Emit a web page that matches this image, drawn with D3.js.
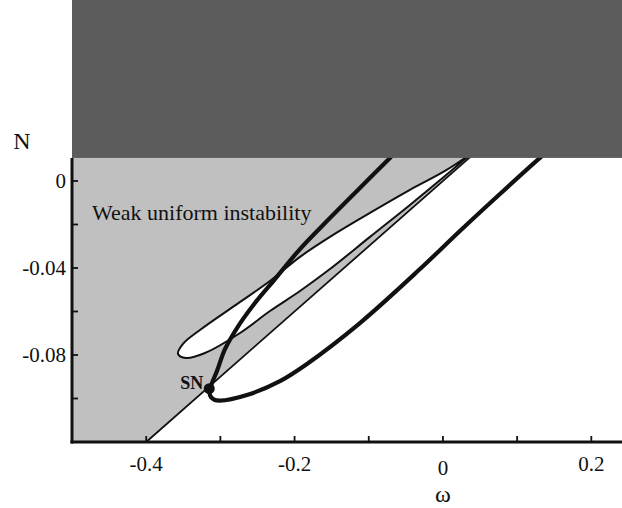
<!DOCTYPE html>
<html>
<head>
<meta charset="utf-8">
<script src="https://cdn.jsdelivr.net/npm/d3@7"></script>
<style>
  html, body { margin: 0; padding: 0; background: #fff; }
  svg { display: block; }
  text { font-family: "Liberation Serif", "Times New Roman", serif; fill: #111; }
</style>
</head>
<body>
<svg id="chart" width="622" height="508"></svg>
<script>
// axis ticks
const xTicks = [-0.4, -0.3, -0.2, -0.1, 0, 0.1, 0.2];
const xLabels = [-0.4, -0.2, 0, 0.2];
const yTicks = [0, -0.02, -0.04, -0.06, -0.08, -0.10];
const yLabels = [0, -0.04, -0.08];

// upper limit of the plot (dark band starts here)
const bandN = 0.0106;

// straight boundary of the weak uniform instability region [omega, N]
const boundaryLine = [[-0.4, -0.12], [0.045, 0.0135]];

// thin closed loop, upper and lower edges from tip to top
const loopUpper = [
  [-0.3571, -0.0795], [-0.3504, -0.0749], [-0.3275, -0.0685], [-0.2776, -0.0566],
  [-0.2332, -0.0460], [-0.1927, -0.0349], [-0.1523, -0.0257], [-0.0984, -0.0147],
  [-0.0445, -0.0041], [0.0027, 0.0046], [0.0380, 0.0125]
];
const loopLower = [
  [-0.3571, -0.0795], [-0.3464, -0.0814], [-0.3208, -0.0791], [-0.2736, -0.0699],
  [-0.2332, -0.0598], [-0.1927, -0.0506], [-0.1523, -0.0405], [-0.0984, -0.0257],
  [-0.0445, -0.0110], [0.0027, 0.0023], [0.0380, 0.0125]
];

// thick curve through the saddle-node point
const thickCurve = [
  [-0.0647, 0.0129], [-0.0714, 0.0106], [-0.1146, -0.0041], [-0.1563, -0.0184],
  [-0.1927, -0.0313], [-0.2264, -0.0451], [-0.2534, -0.0561], [-0.2776, -0.0676],
  [-0.2938, -0.0773], [-0.3046, -0.0874], [-0.3127, -0.0943], [-0.3140, -0.0985],
  [-0.3086, -0.1005], [-0.3005, -0.1010], [-0.2642, -0.0984], [-0.2197, -0.0920],
  [-0.1833, -0.0841], [-0.1119, -0.0653], [-0.0310, -0.0405], [0.0229, -0.0230],
  [0.0768, -0.0060], [0.1307, 0.0106], [0.1388, 0.0129]
];

const snPoint = [-0.315, -0.0955];

const svg = d3.select("#chart");
const W = 622, H = 508;

const x = d3.scaleLinear().domain([-0.5, 0.24]).range([72, 621]);
const y = d3.scaleLinear().domain([-0.12, 0.0832]).range([442, 0]);

const line = d3.line().x(d => x(d[0])).y(d => y(d[1]));
const smooth = d3.line().x(d => x(d[0])).y(d => y(d[1])).curve(d3.curveCatmullRom.alpha(0.5));

// light gray region: left of the straight boundary
const grayPoly = [
  [-0.5, -0.12], boundaryLine[0], boundaryLine[1], [-0.5, boundaryLine[1][1]]
];
svg.append("path")
  .attr("d", line(grayPoly) + "Z")
  .attr("fill", "#c0c0c0");

// the thin loop is white inside
const loopRing = loopUpper.slice().reverse().concat(loopLower.slice(1));
svg.append("path")
  .attr("d", smooth(loopRing))
  .attr("fill", "#fff")
  .attr("stroke", "#111")
  .attr("stroke-width", 2);

svg.append("path")
  .attr("d", line(boundaryLine))
  .attr("fill", "none")
  .attr("stroke", "#111")
  .attr("stroke-width", 1.8);

svg.append("path")
  .attr("d", smooth(thickCurve))
  .attr("fill", "none")
  .attr("stroke", "#111")
  .attr("stroke-width", 4.2)
  .attr("stroke-linejoin", "round");

// dark band on top
svg.append("rect")
  .attr("x", x(-0.5))
  .attr("y", 0)
  .attr("width", W - x(-0.5))
  .attr("height", y(bandN))
  .attr("fill", "#5c5c5c");

// axes
svg.append("line")
  .attr("x1", x(-0.5)).attr("x2", x(-0.5))
  .attr("y1", y(bandN)).attr("y2", y(-0.12) + 1.5)
  .attr("stroke", "#111").attr("stroke-width", 3);
svg.append("line")
  .attr("x1", x(-0.5) - 1.5).attr("x2", W)
  .attr("y1", y(-0.12)).attr("y2", y(-0.12))
  .attr("stroke", "#111").attr("stroke-width", 3);

svg.selectAll(".xtick").data(xTicks).enter().append("line")
  .attr("class", "xtick")
  .attr("x1", d => x(d)).attr("x2", d => x(d))
  .attr("y1", y(-0.12)).attr("y2", y(-0.12) - 6)
  .attr("stroke", "#111").attr("stroke-width", 1.8);

svg.selectAll(".ytick").data(yTicks).enter().append("line")
  .attr("class", "ytick")
  .attr("x1", x(-0.5)).attr("x2", x(-0.5) + 6)
  .attr("y1", d => y(d)).attr("y2", d => y(d))
  .attr("stroke", "#111").attr("stroke-width", 1.8);

svg.selectAll(".xlab").data(xLabels).enter().append("text")
  .attr("class", "xlab")
  .attr("x", d => x(d))
  .attr("y", d => d === 0 ? 475 : 471)
  .attr("text-anchor", "middle")
  .attr("font-size", 21)
  .text(d => d === 0 ? "0" : d.toFixed(1));

svg.selectAll(".ylab").data(yLabels).enter().append("text")
  .attr("class", "ylab")
  .attr("x", 66)
  .attr("y", d => y(d) + 7)
  .attr("text-anchor", "end")
  .attr("font-size", 21)
  .text(d => d === 0 ? "0" : d.toFixed(2));

svg.append("text")
  .attr("x", x(0)).attr("y", 502)
  .attr("text-anchor", "middle")
  .attr("font-size", 24)
  .text("ω");

svg.append("text")
  .attr("x", 22).attr("y", 149)
  .attr("text-anchor", "middle")
  .attr("font-size", 24)
  .text("N");

svg.append("text")
  .attr("x", 92).attr("y", 220)
  .attr("font-size", 22)
  .text("Weak uniform instability");

// saddle-node point
svg.append("circle")
  .attr("cx", x(snPoint[0])).attr("cy", y(snPoint[1]))
  .attr("r", 5.5)
  .attr("fill", "#111");

svg.append("text")
  .attr("x", x(snPoint[0]) - 6).attr("y", y(snPoint[1]))
  .attr("text-anchor", "end")
  .attr("font-size", 18)
  .attr("font-weight", "bold")
  .text("SN");
</script>
</body>
</html>
